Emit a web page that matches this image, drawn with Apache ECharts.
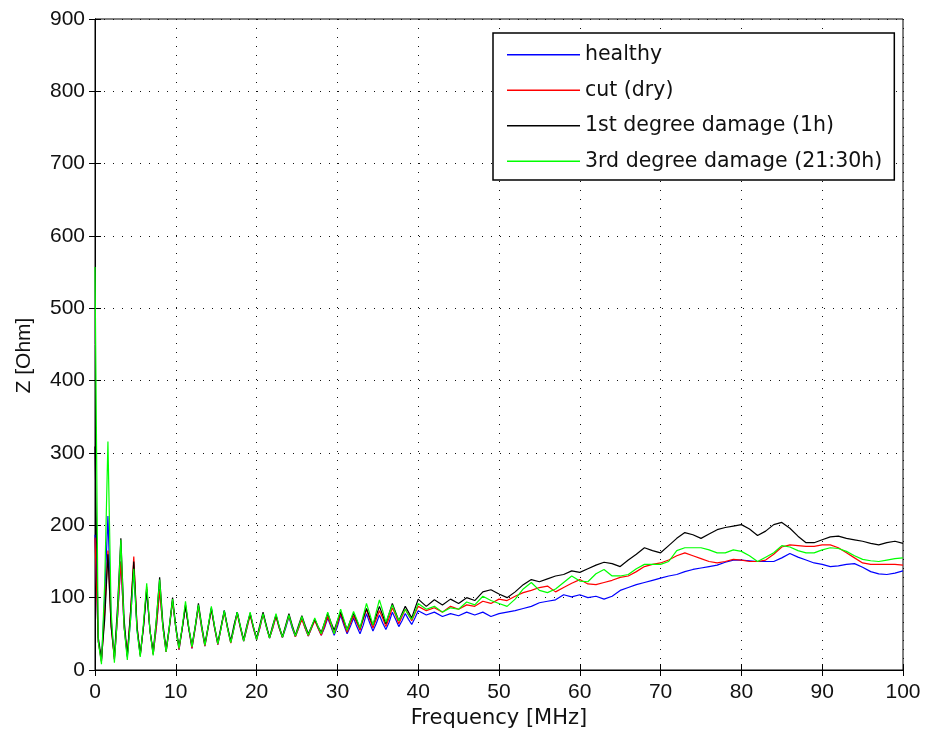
<!DOCTYPE html>
<html>
<head>
<meta charset="utf-8">
<script src="https://cdn.jsdelivr.net/npm/echarts@6/dist/echarts.min.js"></script>
<style>html,body{margin:0;padding:0;background:#fff;}#c{width:927px;height:738px;}</style>
</head>
<body>
<div id="c"></div>
<script>
// Frequency [MHz]: 0-40 at 0.4 MHz steps, then 41-100 at 1 MHz steps
const freqLow = [0,0.4,0.8,1.2,1.6,2,2.4,2.8,3.2,3.6,4,4.4,4.8,5.2,5.6,6,6.4,6.8,7.2,7.6,8,8.4,8.8,9.2,9.6,10,10.4,10.8,11.2,11.6,12,12.4,12.8,13.2,13.6,14,14.4,14.8,15.2,15.6,16,16.4,16.8,17.2,17.6,18,18.4,18.8,19.2,19.6,20,20.4,20.8,21.2,21.6,22,22.4,22.8,23.2,23.6,24,24.4,24.8,25.2,25.6,26,26.4,26.8,27.2,27.6,28,28.4,28.8,29.2,29.6,30,30.4,30.8,31.2,31.6,32,32.4,32.8,33.2,33.6,34,34.4,34.8,35.2,35.6,36,36.4,36.8,37.2,37.6,38,38.4,38.8,39.2,39.6,40];
const freqHigh = [41,42,43,44,45,46,47,48,49,50,51,52,53,54,55,56,57,58,59,60,61,62,63,64,65,66,67,68,69,70,71,72,73,74,75,76,77,78,79,80,81,82,83,84,85,86,87,88,89,90,91,92,93,94,95,96,97,98,99,100];

const healthyLow = [187,40,12,100, 213,70,15,75, 150,60,18,70, 140,55,20,60, 110,55,22,60, 112,60,25,58, 95,58,28,58, 90,58,30,58, 88,58,33,58, 86,58,35,58, 82,58,38,58, 80,58,40,58, 78,58,42,58, 78,60,44,58, 75,58,45,58, 74,58,46,58, 72,58,47,58, 70,58,48,58, 72,60,48,60, 76,62,50,60, 72,60,50,62, 78,65,54,64, 76,65,56,66, 80,70,60,68, 78,70,63,72, 82];
const healthyHigh = [76,80,74,78,75,80,76,80,74,78,80,82,85,88,93,95,97,104,101,104,100,102,98,102,110,114,118,121,124,127,130,132,136,139,141,143,145,149,152,152,151,150,150,150,155,161,156,152,148,146,143,144,146,147,142,136,133,132,134,137];

const cutLow = [183,40,12,80, 165,60,15,75, 150,60,20,80, 157,60,20,60, 115,55,22,60, 110,60,25,58, 95,58,28,58, 90,58,30,58, 88,58,33,58, 84,58,35,58, 80,58,37,58, 78,58,40,58, 76,58,42,58, 78,60,44,58, 74,58,45,60, 75,60,46,58, 70,58,47,58, 68,58,48,60, 74,62,50,64, 78,65,52,64, 75,65,55,70, 84,70,58,70, 82,72,60,72, 86,76,64,74, 84,76,68,78, 88];
const cutHigh = [82,86,80,88,84,90,88,95,92,98,96,102,107,110,114,116,108,114,120,125,119,118,121,124,128,130,136,143,146,148,152,158,162,158,154,150,148,150,153,152,150,150,152,160,170,173,172,171,171,173,173,169,162,155,148,146,146,146,146,145];

const damage1Low = [309,45,15,70, 160,60,18,90, 182,70,20,80, 150,60,22,60, 112,55,25,70, 128,65,28,60, 100,60,32,58, 88,58,34,60, 92,62,36,60, 85,60,38,60, 82,60,40,62, 80,60,42,62, 78,60,44,62, 80,62,45,62, 76,60,46,62, 78,62,48,62, 75,62,50,60, 70,60,52,65, 78,66,55,68, 80,68,56,68, 78,68,58,72, 85,73,62,75, 88,76,64,78, 92,80,68,78, 88,80,72,85, 98];
const damage1High = [88,97,90,98,92,100,96,108,111,105,100,108,118,125,122,126,130,132,137,135,140,145,149,147,143,152,160,169,165,162,172,182,190,187,182,188,194,197,199,201,195,186,192,201,204,196,185,176,176,180,184,185,182,180,178,175,173,176,178,175];

const damage3Low = [557,40,8,120, 316,80,10,80, 180,60,14,70, 140,55,18,65, 120,55,20,70, 125,60,25,60, 98,58,30,60, 95,60,32,60, 90,60,34,60, 88,60,36,58, 82,58,38,58, 80,60,40,60, 80,60,42,60, 78,60,44,60, 78,60,45,60, 76,60,47,60, 74,60,48,60, 72,60,50,65, 80,65,50,68, 84,70,55,68, 81,70,58,75, 92,78,62,80, 97,82,66,78, 90,78,68,76, 84,76,70,80, 92];
const damage3High = [84,88,80,86,84,94,90,102,96,92,88,98,112,121,110,107,112,121,130,123,122,133,139,130,130,132,140,146,146,146,150,165,169,169,169,166,162,162,166,164,158,150,156,162,172,170,165,162,162,166,169,168,164,158,153,151,150,152,154,155];

const seriesNames = ['healthy','cut (dry)','1st degree damage (1h)','3rd degree damage (21:30h)'];
const seriesColors = ['#0000ff','#ff0000','#000000','#00ff00'];
const xTicks = [0,10,20,30,40,50,60,70,80,90,100];
const yTicks = [0,100,200,300,400,500,600,700,800,900];

const freq = freqLow.concat(freqHigh);
const values = [
  healthyLow.concat(healthyHigh),
  cutLow.concat(cutHigh),
  damage1Low.concat(damage1High),
  damage3Low.concat(damage3High)
];

const tickFont = 'Liberation Sans, Arial, sans-serif';
const textFont = 'DejaVu Sans, sans-serif';
const chart = echarts.init(document.getElementById('c'), null, {renderer:'canvas'});
const dotted = {show:true, lineStyle:{color:'#111', width:1, type:[1,8]}};
const tickIn = {show:true, inside:true, length:6, lineStyle:{color:'#000', width:1}};

chart.setOption({
  animation:false,
  backgroundColor:'#fff',
  grid:{left:95, right:24, top:19, bottom:68, show:true, borderColor:'#000', borderWidth:1, backgroundColor:'transparent'},
  legend:{
    data:seriesNames,
    orient:'vertical',
    left:493, top:33,
    icon:'rect',
    itemWidth:73, itemHeight:1.5, itemGap:12,
    padding:[10,12,7,14],
    borderColor:'#000', borderWidth:1.5, backgroundColor:'#fff',
    textStyle:{fontFamily:textFont, fontSize:20.5, color:'#111', lineHeight:23.5}
  },
  xAxis:[{
    type:'value', min:xTicks[0], max:xTicks[xTicks.length-1], interval:10,
    name:'Frequency [MHz]', nameLocation:'middle', nameGap:38,
    nameTextStyle:{fontFamily:textFont, fontSize:21, color:'#111'},
    axisLine:{show:true, lineStyle:{color:'#000'}},
    axisTick:tickIn,
    axisLabel:{fontFamily:tickFont, fontSize:21, color:'#111', margin:12},
    splitLine:dotted
  },{
    type:'value', position:'top', min:0, max:100, interval:10,
    axisLine:{show:true, lineStyle:{color:'#000'}}, axisTick:tickIn,
    axisLabel:{show:false}, splitLine:{show:false}
  }],
  yAxis:[{
    type:'value', min:yTicks[0], max:yTicks[yTicks.length-1], interval:100,
    name:'Z [Ohm]', nameLocation:'middle', nameGap:60,
    nameTextStyle:{fontFamily:tickFont, fontSize:21, color:'#111', padding:[0,22,0,0]},
    axisLine:{show:true, lineStyle:{color:'#000'}},
    axisTick:tickIn,
    axisLabel:{fontFamily:tickFont, fontSize:21, color:'#111', margin:10},
    splitLine:dotted
  },{
    type:'value', position:'right', min:0, max:900, interval:100,
    axisLine:{show:true, lineStyle:{color:'#000'}}, axisTick:tickIn,
    axisLabel:{show:false}, splitLine:{show:false}
  }],
  series: seriesNames.map((n,k)=>({
    name:n, type:'line', symbol:'none', showSymbol:false,
    color:seriesColors[k],
    itemStyle:{color:seriesColors[k]},
    lineStyle:{width:1.2, color:seriesColors[k]},
    data: freq.map((f,i)=>[f, values[k][i]]),
    z: 2+k
  }))
});
</script>
</body>
</html>
